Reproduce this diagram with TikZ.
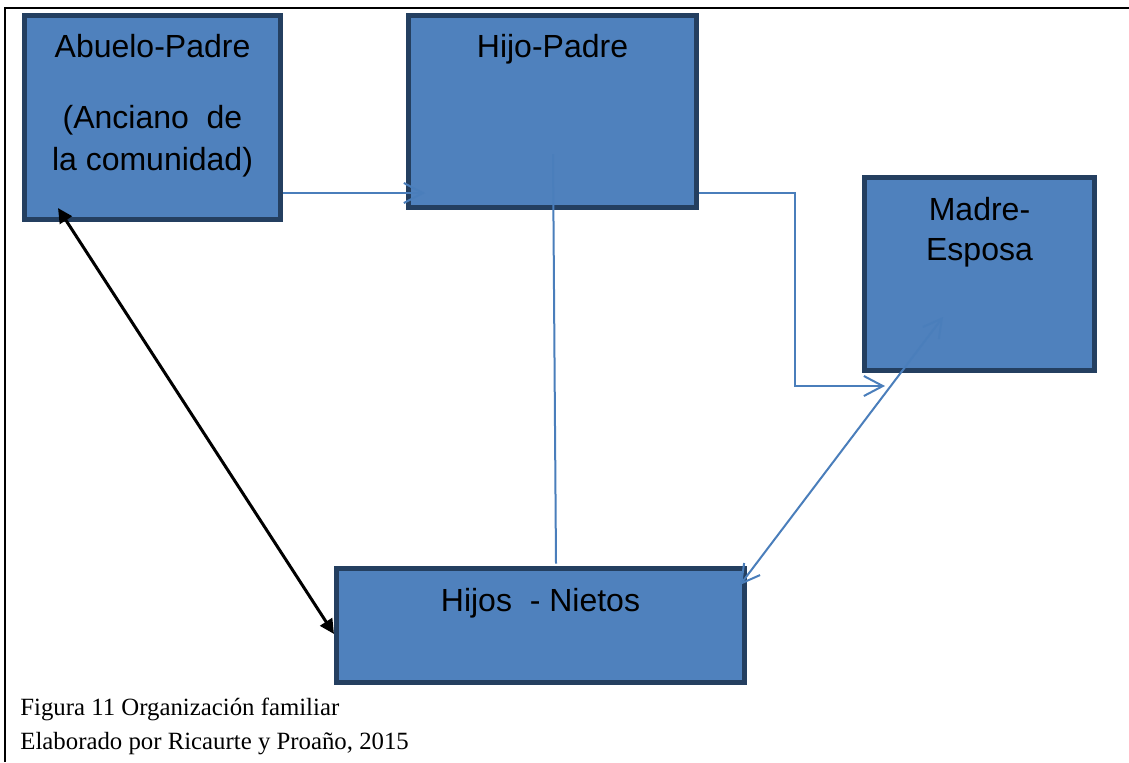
\documentclass[tikz,border=0pt]{standalone}
\usepackage{fontspec}
\setmainfont{Liberation Serif}
\newfontfamily\cajafont{Liberation Sans}
\usepackage{tikz}
\usetikzlibrary{arrows.meta}
\usepackage{xcolor}
\definecolor{cajarelleno}{HTML}{4F81BD}
\definecolor{cajaborde}{HTML}{243F60}
\definecolor{flechaazul}{HTML}{4A7EBB}

\begin{document}
\begin{tikzpicture}[
        x=0.5pt, y=-0.5pt,
        famcaja/.style={
            draw=cajaborde, % Dark navy border
            fill=cajarelleno,
            line width=2.5pt,
            inner sep=0pt
        },
        famtexto/.style={
            font=\cajafont\fontsize{16}{19}\selectfont,
            anchor=base,
            inner sep=0pt
        },
        pietexto/.style={
            font=\fontsize{12.4}{14}\selectfont,
            anchor=base west,
            inner sep=0pt
        },
        enlace/.style={
            draw=flechaazul,
            line width=1pt
        },
        flechaabierta/.style={
            enlace,
            -{Straight Barb[length=9.5pt,width=10pt]}
        },
        dobleabierta/.style={
            enlace,
            {Straight Barb[length=9pt,width=10pt]}-{Straight Barb[length=9pt,width=10pt]}
        },
        doblenegra/.style={
            draw=black,
            line width=1.5pt,
            {Triangle[length=7.3pt,width=7pt]}-{Triangle[length=7.3pt,width=7pt]}
        }
    ]

\useasboundingbox (0,0) rectangle (1129,762);

% Frame: top and left edges only
\draw[line width=1.3pt] (5,762) -- (5,8) -- (1129,8);

% The four boxes
\node[famcaja, minimum width=128pt, minimum height=102pt] (abuelo) at (152.5,117.5) {};
\node[famcaja, minimum width=144pt, minimum height=96pt] (hijo) at (552.5,111.5) {};
\node[famcaja, minimum width=115pt, minimum height=96.5pt] (madre) at (979.5,274) {};
\node[famcaja, minimum width=204pt, minimum height=57pt] (nietos) at (540.5,625.5) {};

% Texts in the boxes
\node[famtexto] (abuelotxt) at (152.5,57) {Abuelo-Padre};
\node[famtexto] (ancianotxt) at (152.5,128) {(Anciano~ de};
\node[famtexto] (comunidadtxt) at (152.5,170) {la comunidad)};
\node[famtexto] (hijotxt) at (552.5,57) {Hijo-Padre};
\node[famtexto] (madretxt) at (979.5,220) {Madre-};
\node[famtexto] (esposatxt) at (979.5,260) {Esposa};
\node[famtexto] (nietostxt) at (540.5,611) {Hijos~ - Nietos};

% Free ends of the connectors
\coordinate (hijotip) at (425,193);
\coordinate (madretip) at (885,386);
\coordinate (hijoint) at (553,154);
\coordinate (madreint) at (943,317);
\coordinate (nietosint) at (740,585);
\coordinate (abueloint) at (58,208);

% Connectors
\draw[flechaabierta] (abuelo.east |- hijotip) -- (hijotip);
\draw[flechaabierta] (hijo.east |- hijotip) -- ++(96,0) |- (madretip);
\draw[enlace] (hijoint) -- ([xshift=7.75pt,yshift=1.25pt]nietos.north);
\draw[dobleabierta] (madreint) -- (nietosint);
\draw[doblenegra] (abueloint) -- ([yshift=-4.25pt]nietos.west);

% Caption
\node[pietexto] (figura) at (20,715) {Figura 11 Organización familiar};
\node[pietexto] (elaborado) at (20,749) {Elaborado por Ricaurte y Proaño, 2015};

\end{tikzpicture}
\end{document}
